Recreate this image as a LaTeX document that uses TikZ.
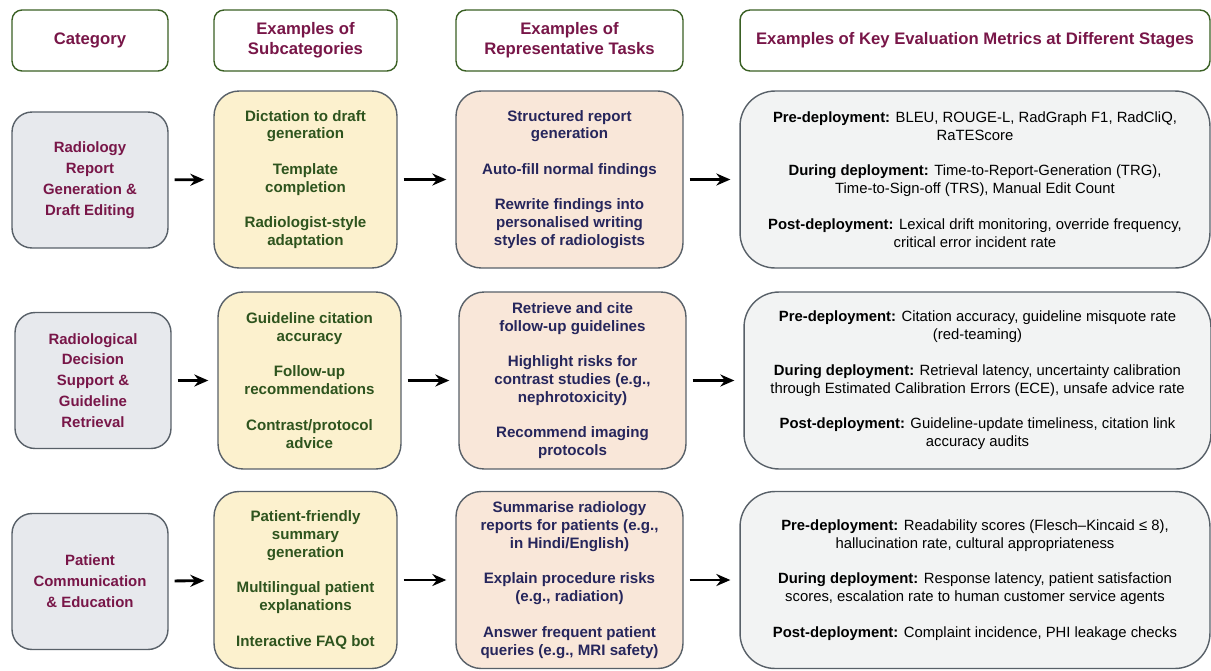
\documentclass[tikz,border=0pt]{standalone}
\usepackage{fontspec}
\setsansfont{Liberation Sans}
\usepackage{xcolor}
\usepackage{tikz}
\usetikzlibrary{arrows.meta, positioning}
\definecolor{headgreen}{RGB}{58,96,36}
\definecolor{maroontext}{RGB}{120,22,72}
\definecolor{edgegray}{RGB}{88,96,104}
\definecolor{catfill}{RGB}{231,233,237}
\definecolor{subfill}{RGB}{252,241,206}
\definecolor{subtext}{RGB}{46,84,30}
\definecolor{taskfill}{RGB}{249,231,217}
\definecolor{tasktext}{RGB}{38,38,92}
\definecolor{metfill}{RGB}{242,243,243}
\tikzset{
    headblock/.style={
        rectangle,
        rounded corners=0.2cm,
        draw=headgreen,
        line width=0.8pt,
        fill=white,
        text=maroontext,
        align=center,
        minimum height=1.22cm,
        font=\fontsize{9.5}{11.3}\selectfont\sffamily\bfseries
    },
    catblock/.style={
        rectangle,
        rounded corners=0.4cm,
        draw=edgegray,
        line width=0.8pt,
        fill=catfill,
        text=maroontext,
        align=center,
        minimum width=3.12cm,
        minimum height=2.72cm,
        font=\fontsize{8.5}{11.9}\selectfont\sffamily\bfseries
    },
    subblock/.style={
        rectangle,
        rounded corners=0.5cm,
        draw=edgegray,
        line width=0.8pt,
        fill=subfill,
        text=subtext,
        align=center,
        minimum width=3.66cm,
        minimum height=3.54cm,
        font=\fontsize{8.6}{10.2}\selectfont\sffamily\bfseries
    },
    taskblock/.style={
        subblock,
        fill=taskfill,
        text=tasktext,
        minimum width=4.54cm
    },
    metblock/.style={
        rectangle,
        rounded corners=0.7cm,
        draw=edgegray,
        line width=0.8pt,
        fill=metfill,
        text=black,
        align=center,
        minimum width=9.4cm,
        minimum height=3.54cm,
        font=\fontsize{8.45}{10.2}\selectfont\sffamily
    },
    connection/.style={
        draw=black,
        line width=1.6pt,
        -{Stealth[length=0.28cm,width=0.24cm]},
        shorten <=0.12cm,
        shorten >=0.18cm
    }
}

\begin{document}
\begin{tikzpicture}[x=0.02cm, y=-0.02cm]
\useasboundingbox (0,0) rectangle (1211,670);

% Column headers
\node[headblock, minimum width=3.12cm] (hcat) at (90,40.5) {Category};
\node[headblock, minimum width=3.66cm] (hsub) at (305.5,40.5) {Examples of\\Subcategories};
\node[headblock, minimum width=4.54cm] (htask) at (569.5,40.5) {Examples of\\Representative Tasks};
\node[headblock, minimum width=9.4cm] (hmet) at (975,40.5) {Examples of Key Evaluation Metrics at Different Stages};

% Row 1
\node[catblock] (cat1) at (90,180) {Radiology\\Report\\Generation \&\\Draft Editing};
\node[subblock] (sub1) at (305.5,179.5) {Dictation to draft\\generation\\[10pt]Template\\completion\\[10pt]Radiologist-style\\adaptation};
\node[taskblock] (task1) at (569.5,179.5) {Structured report\\generation\\[10pt]Auto-fill normal findings\\[10pt]Rewrite findings into\\personalised writing\\styles of radiologists};
\node[metblock] (met1) at (975,179.5) {\textbf{Pre-deployment:} BLEU, ROUGE-L, RadGraph F1, RadCliQ,\\RaTEScore\\[10pt]\textbf{During deployment:} Time-to-Report-Generation (TRG),\\Time-to-Sign-off (TRS), Manual Edit Count\\[10pt]\textbf{Post-deployment:} Lexical drift monitoring, override frequency,\\critical error incident rate};

% Row 2
\node[catblock] (cat2) at (93,380.5) {Radiological\\Decision\\Support \&\\Guideline\\Retrieval};
\node[subblock] (sub2) at (309.5,380.5) {Guideline citation\\accuracy\\[10pt]Follow-up\\recommendations\\[10pt]Contrast/protocol\\advice};
\node[taskblock] (task2) at (572.5,380.5) {Retrieve and cite\\follow-up guidelines\\[10pt]Highlight risks for\\contrast studies (e.g.,\\nephrotoxicity)\\[10pt]Recommend imaging\\protocols};
\node[metblock, minimum width=9.34cm] (met2) at (977.5,380.5) {\textbf{Pre-deployment:} Citation accuracy, guideline misquote rate\\(red-teaming)\\[10pt]\textbf{During deployment:} Retrieval latency, uncertainty calibration\\through Estimated Calibration Errors (ECE), unsafe advice rate\\[10pt]\textbf{Post-deployment:} Guideline-update timeliness, citation link\\accuracy audits};

% Row 3
\node[catblock] (cat3) at (90,581.5) {Patient\\Communication\\\& Education};
\node[subblock] (sub3) at (305.5,580) {Patient-friendly\\summary\\generation\\[10pt]Multilingual patient\\explanations\\[10pt]Interactive FAQ bot};
\node[taskblock] (task3) at (569.5,580) {Summarise radiology\\reports for patients (e.g.,\\in Hindi/English)\\[10pt]Explain procedure risks\\(e.g., radiation)\\[10pt]Answer frequent patient\\queries (e.g., MRI safety)};
\node[metblock] (met3) at (975,580) {\textbf{Pre-deployment:} Readability scores (Flesch–Kincaid ≤ 8),\\hallucination rate, cultural appropriateness\\[10pt]\textbf{During deployment:} Response latency, patient satisfaction\\scores, escalation rate to human customer service agents\\[10pt]\textbf{Post-deployment:} Complaint incidence, PHI leakage checks};

% Arrows
\foreach \r in {1,2,3} {
    \draw[connection] (cat\r) -- (sub\r);
    \draw[connection] (sub\r) -- (task\r);
    \draw[connection] (task\r) -- (met\r);
}

\end{tikzpicture}
\end{document}
